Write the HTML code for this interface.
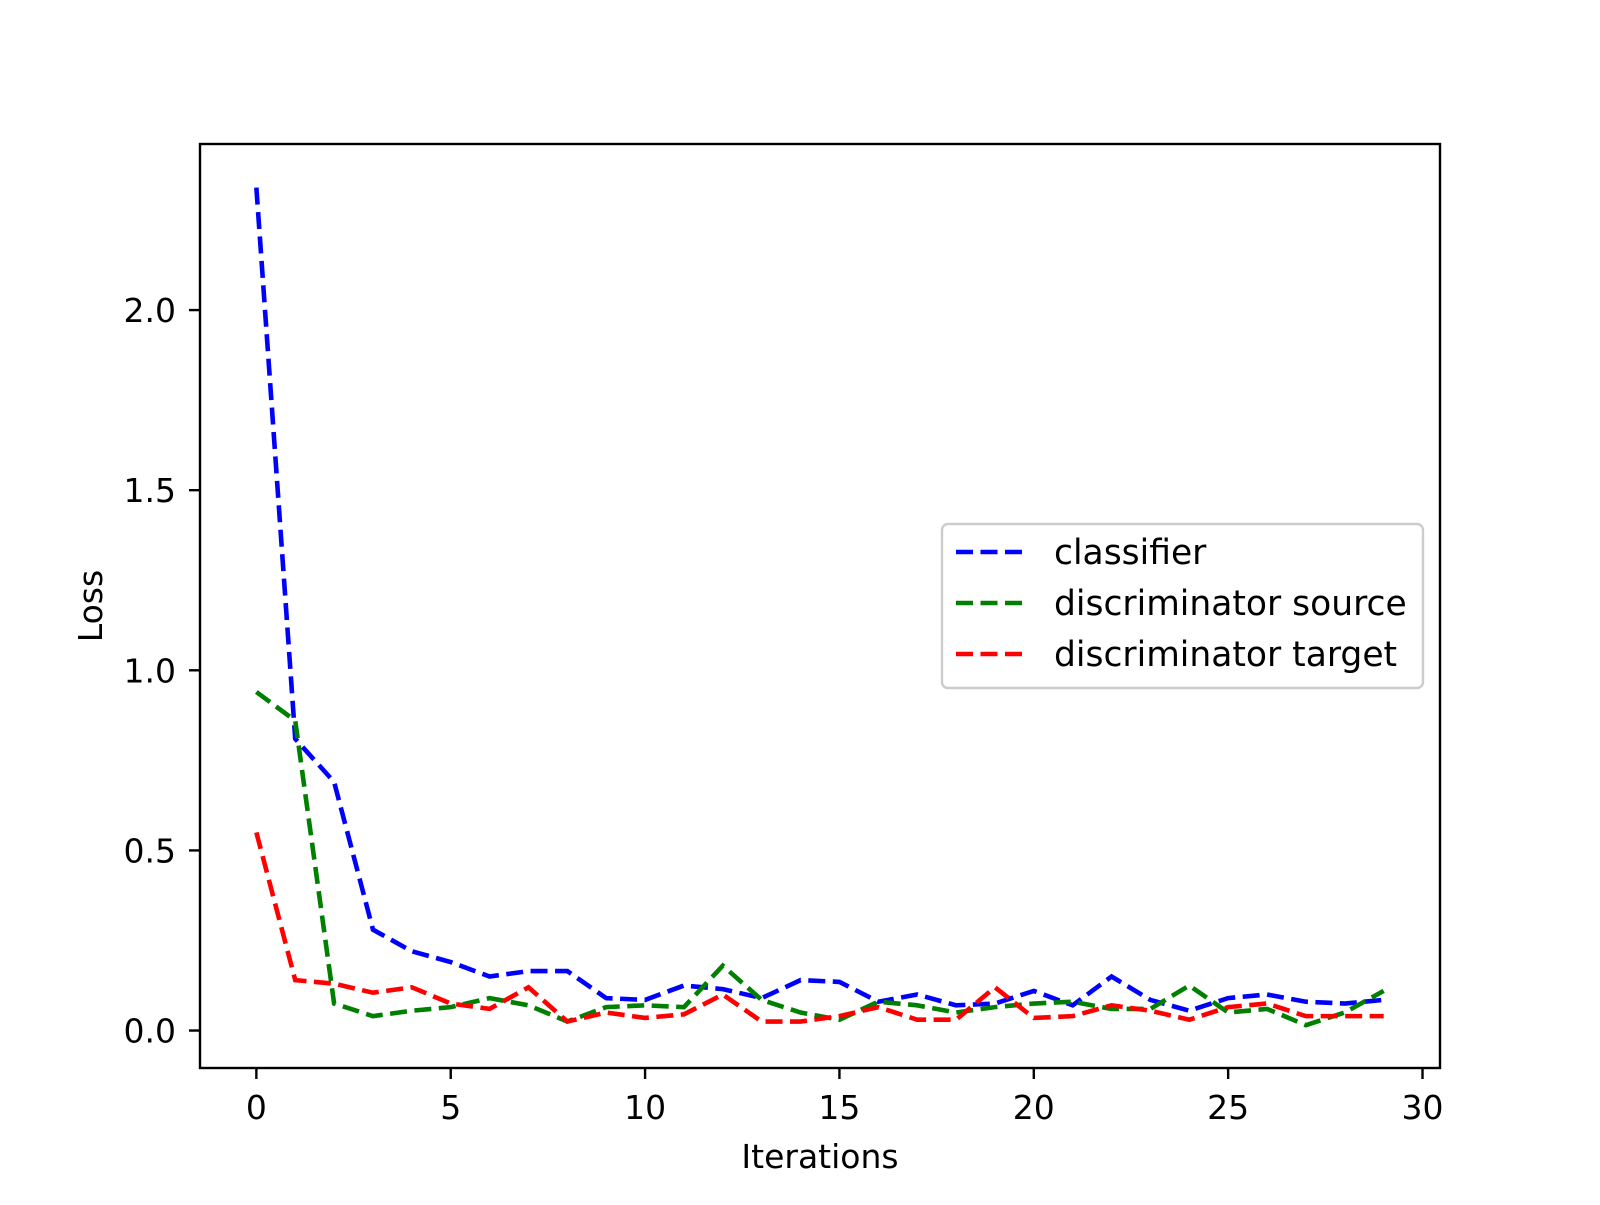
<!DOCTYPE html>
<html><head><meta charset="utf-8"><style>
html,body{margin:0;padding:0;background:#fff;}
svg text{font-family:"DejaVu Sans","Liberation Sans",sans-serif;fill:#000;}
</style></head><body>
<svg id="chart" width="1600" height="1200" xmlns="http://www.w3.org/2000/svg">
<rect width="1600" height="1200" fill="#fff"/>
<g id="plot"></g>
</svg>
<script>
const iterations = [0,1,2,3,4,5,6,7,8,9,10,11,12,13,14,15,16,17,18,19,20,21,22,23,24,25,26,27,28,29];
const classifierLoss = [2.34,0.81,0.69,0.28,0.22,0.19,0.15,0.165,0.165,0.09,0.085,0.125,0.115,0.09,0.14,0.135,0.08,0.1,0.07,0.075,0.11,0.07,0.15,0.085,0.055,0.09,0.1,0.08,0.075,0.085];
const discSourceLoss = [0.94,0.86,0.075,0.04,0.055,0.065,0.09,0.07,0.025,0.065,0.07,0.065,0.18,0.085,0.05,0.03,0.08,0.07,0.05,0.065,0.075,0.08,0.06,0.06,0.125,0.05,0.06,0.015,0.05,0.11];
const discTargetLoss = [0.55,0.14,0.13,0.105,0.12,0.075,0.06,0.12,0.025,0.05,0.035,0.045,0.1,0.025,0.025,0.04,0.065,0.03,0.03,0.12,0.035,0.04,0.07,0.055,0.03,0.065,0.075,0.04,0.04,0.04];
const xTicks = [0,5,10,15,20,25,30];
const yTicks = [0.0,0.5,1.0,1.5,2.0];
const seriesNames = ["classifier","discriminator source","discriminator target"];
const seriesColors = ["#0000ff","#008000","#ff0000"];

const L=200,R=1440,T=144,B=1068;
const xMin=-1.45,xMax=30.45,yMin=-0.104,yMax=2.461;
const xs=v=>L+(v-xMin)/(xMax-xMin)*(R-L);
const ys=v=>B-(v-yMin)/(yMax-yMin)*(B-T);
const NS="http://www.w3.org/2000/svg";
const g=document.getElementById('plot');
function mk(tag,attrs,parent){const e=document.createElementNS(NS,tag);for(const k in attrs)e.setAttribute(k,attrs[k]);(parent||g).appendChild(e);return e;}

const data=[classifierLoss,discSourceLoss,discTargetLoss];
const clip=mk('clipPath',{id:'clp'});mk('rect',{x:L,y:T,width:R-L,height:B-T},clip);
data.forEach((arr,i)=>{
  const p=mk('polyline',{points:arr.map((v,j)=>xs(iterations[j])+','+ys(v)).join(' '),fill:'none',stroke:seriesColors[i],'stroke-width':4.6,'stroke-dasharray':'17 7.5','clip-path':'url(#clp)'});
  
  
});
const frame=mk('rect',{x:L,y:T,width:R-L,height:B-T,fill:'none',stroke:'#000','stroke-width':2.4});



xTicks.forEach(t=>{
  const x=xs(t);
  mk('line',{x1:x,y1:B,x2:x,y2:B+11,stroke:'#000','stroke-width':2.4});
  const tx=mk('text',{x:x,y:B+51,'text-anchor':'middle','font-size':33});
  tx.textContent=String(t);
  
  
});
yTicks.forEach(t=>{
  const y=ys(t);
  mk('line',{x1:L-11,y1:y,x2:L,y2:y,stroke:'#000','stroke-width':2.4});
  const tx=mk('text',{x:176,y:y+12,'text-anchor':'end','font-size':33});
  tx.textContent=t.toFixed(1);
  
  
});
const xl=mk('text',{x:(L+R)/2,y:1168,'text-anchor':'middle','font-size':33});
xl.textContent='Iterations';


const yl=mk('text',{x:0,y:0,'text-anchor':'middle','font-size':33,transform:'translate(102,'+((T+B)/2)+') rotate(-90)'});
yl.textContent='Loss';



const lg=mk('g',{});


mk('rect',{x:942,y:524,width:481,height:164,rx:6,fill:'#fff','fill-opacity':0.8,stroke:'#cccccc','stroke-width':2.4},lg);
seriesNames.forEach((n,i)=>{
  const y=552+i*51;
  mk('line',{x1:956,y1:y,x2:1028,y2:y,stroke:seriesColors[i],'stroke-width':4.6,'stroke-dasharray':'17 7.5'},lg);
  const tx=mk('text',{x:1054,y:y+12,'font-size':34.5},lg);
  tx.textContent=n;
  
  
});
</script>
</body></html>
